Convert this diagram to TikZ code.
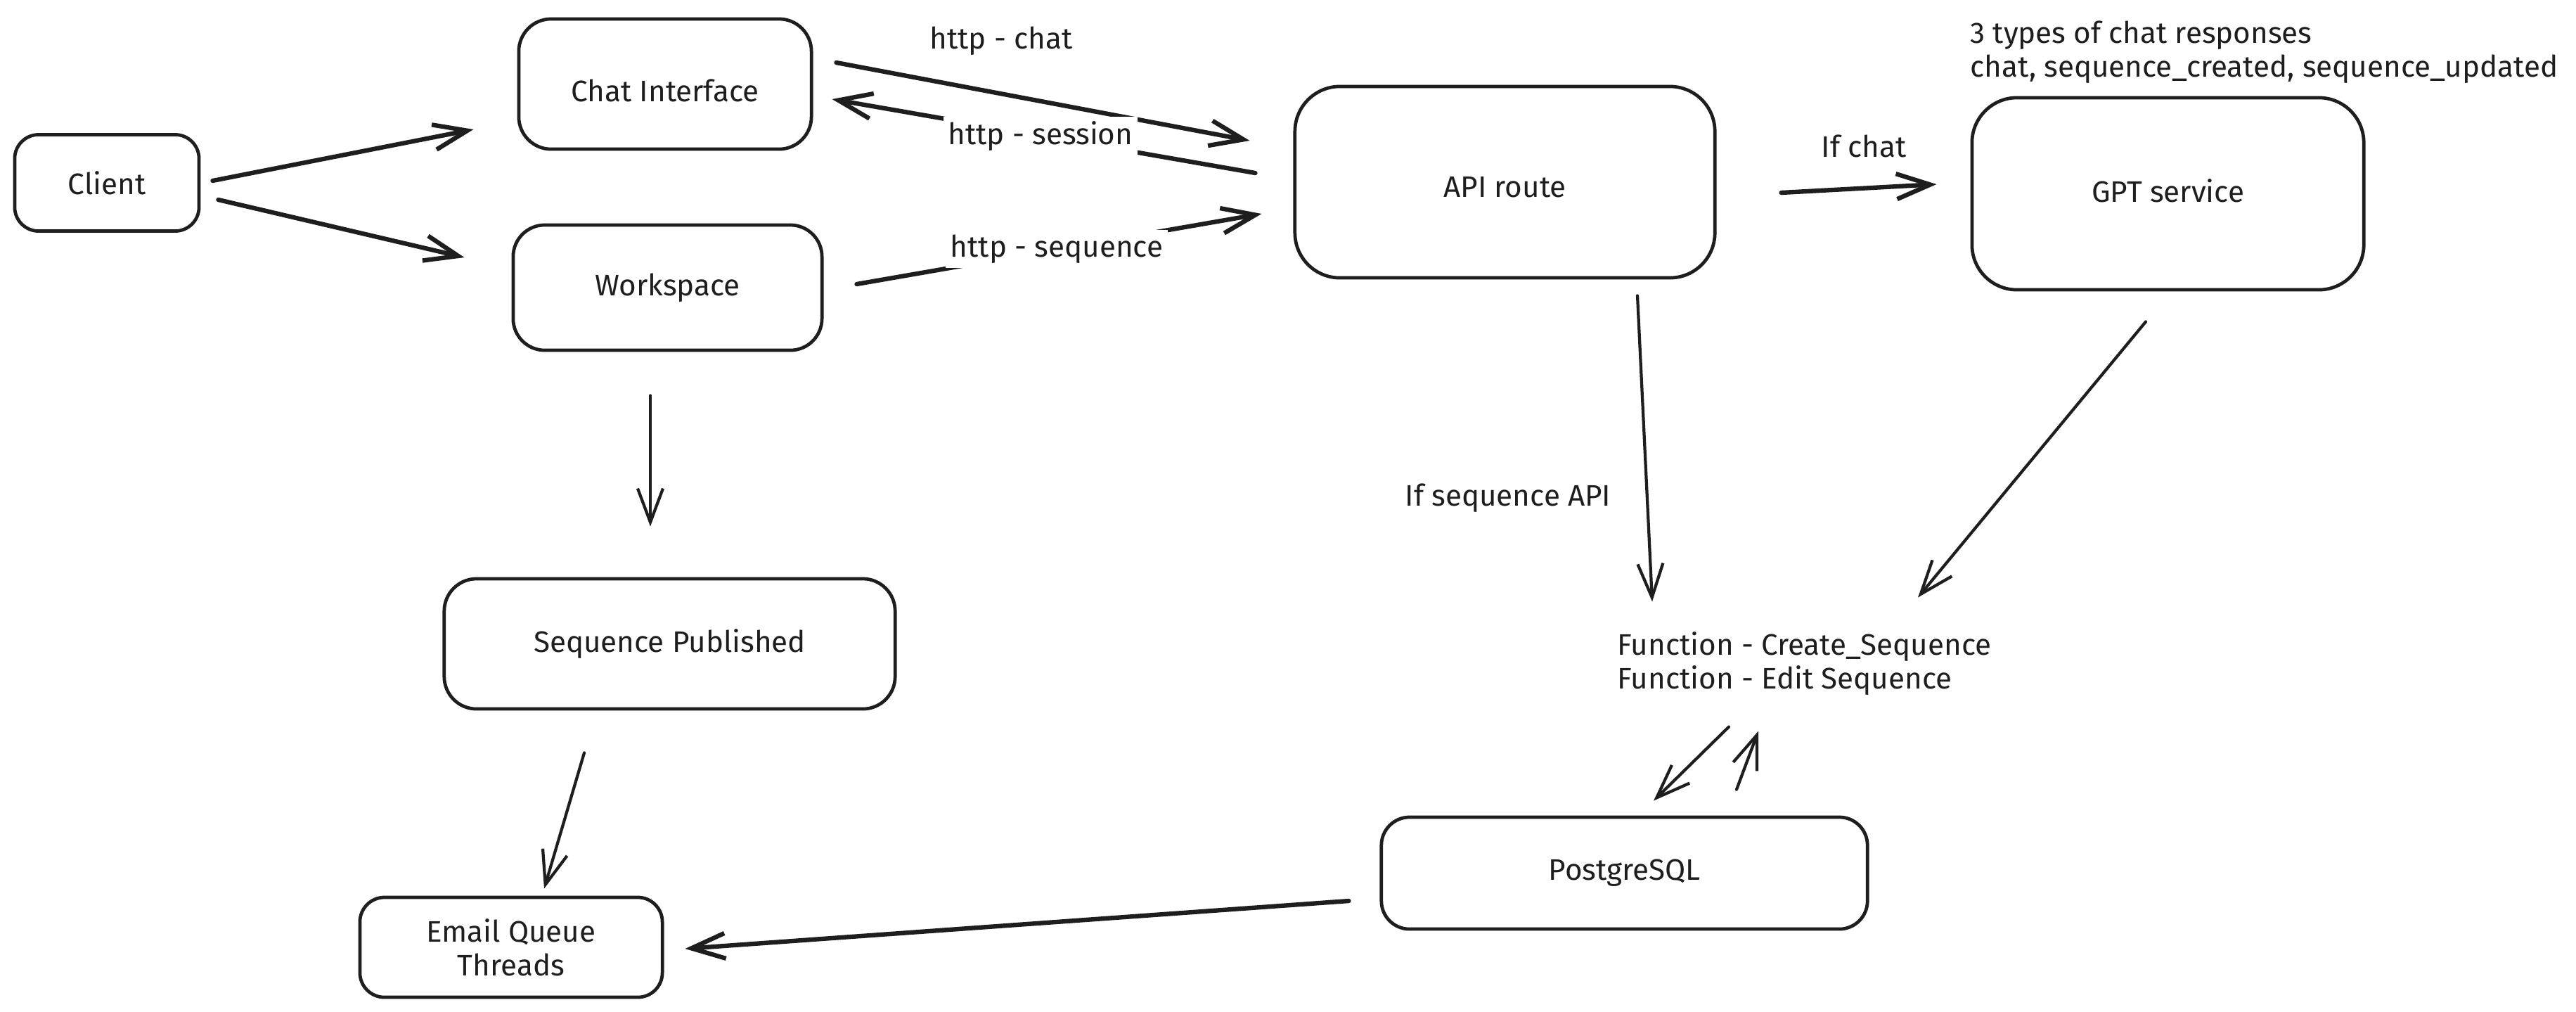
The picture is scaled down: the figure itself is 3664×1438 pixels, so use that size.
\documentclass[tikz,border=0pt]{standalone}
\usepackage{fontspec}
\setmainfont{Fira Sans}
\usetikzlibrary{arrows.meta}
\definecolor{ink}{HTML}{1E1E1E}
\newcommand\diagfont{\fontsize{12}{13.7}\selectfont}
\newcommand\vshift[2]{\raisebox{#1}[\height][\depth]{#2}}
\tikzset{
  box/.style={draw=ink, line width=1.35pt, rounded corners=#1, inner sep=0pt, align=center, text=ink, font=\diagfont},
  box/.default=0.46cm,
  arr/.style={draw=ink, line width=1.8pt, line cap=round, -{Straight Barb[length=4.8mm,width=3.6mm]}},
  thinarr/.style={arr, line width=1.2pt},
  lbl/.style={text=ink, font=\diagfont, inner sep=2pt},
  wlbl/.style={lbl, fill=white},
}
\begin{document}
\begin{tikzpicture}[x=0.01cm,y=-0.01cm]
\fill[white] (0,0) rectangle (3664,1438);
\useasboundingbox (0,0) rectangle (3664,1438);

% boxes
\node[box=0.34cm, minimum width=2.62cm, minimum height=1.37cm] (client) at (152,260) {Client};
\node[box=0.46cm, minimum width=4.16cm, minimum height=1.85cm] (chat) at (946,119.5) {\vshift{-0.09cm}{Chat Interface}};
\node[box=0.45cm, minimum width=4.39cm, minimum height=1.78cm] (ws) at (949.5,409) {Workspace};
\node[box=0.64cm, minimum width=5.97cm, minimum height=2.72cm] (api) at (2140.5,259) {\vshift{-0.07cm}{API route}};
\node[box=0.64cm, minimum width=5.57cm, minimum height=2.73cm] (gpt) at (3083.5,275.5) {\vshift{0.045cm}{GPT service}};
\node[box=0.46cm, minimum width=6.41cm, minimum height=1.85cm] (seqpub) at (952.5,915.5) {Sequence Published};
\node[box=0.35cm, minimum width=4.30cm, minimum height=1.42cm] (email) at (727,1347) {Email Queue\\Threads};
\node[box=0.40cm, minimum width=6.91cm, minimum height=1.59cm] (pg) at (2310.5,1241.5) {PostgreSQL};
\node[lbl, inner sep=0pt, anchor=west, align=left] (func) at (2300,943.5) {Function - Create\_Sequence\\Function - Edit Sequence};
\node[lbl, inner sep=0pt, anchor=west, align=left] (types) at (2802,74) {3 types of chat responses\\chat, sequence\_created, sequence\_updated};

% connectors
\draw[arr] ([shift={(17,-3)}]client.east) -- ([shift={(-62,64.5)}]chat.west);
\draw[arr] ([shift={(25,24)}]client.east) -- ([shift={(-67,-43)}]ws.west);
\draw[arr] ([shift={(33,-30.5)}]chat.east) -- ([shift={(-62,-59)}]api.west);
\draw[arr] ([shift={(-54,-13)}]api.west) -- ([shift={(27,21.5)}]chat.east);
\draw[arr] ([shift={(47,-5)}]ws.east) -- ([shift={(-45,45)}]api.west);
\draw[arr] ([shift={(92,15)}]api.east) -- ([shift={(-48,-13.5)}]gpt.west);
\draw[thinarr] ([shift={(188.5,23)}]api.south) -- ([shift={(50,-88)}]func.west);
\draw[thinarr] ([shift={(-31.5,43)}]gpt.south) -- ([shift={(428,-94)}]func.west);
\draw[thinarr] ([shift={(159,90)}]func.west) -- ([shift={(41.5,-21)}]pg.north);
\draw[thinarr] ([shift={(159.5,-37)}]pg.north) -- ([shift={(201,96)}]func.west);
\draw[thinarr] ([shift={(-24.5,62)}]ws.south) -- ([shift={(-27.5,-72)}]seqpub.north);
\draw[thinarr] ([shift={(-121.5,60)}]seqpub.south) -- ([shift={(47,-10)}]email.north);
\draw[arr] ([shift={(-44,39.5)}]pg.west) -- ([shift={(30,2)}]email.east);

% labels
\node[lbl] (lchat) at (1424,58) {http - chat};
\node[wlbl] (lsession) at (1480,194) {http - session};
\node[wlbl] (lseq) at (1503,354) {http - sequence};
\node[lbl] (lifchat) at (2651,208) {If chat};
\node[lbl] (lifseq) at (2145,708) {If sequence API};
\end{tikzpicture}
\end{document}
